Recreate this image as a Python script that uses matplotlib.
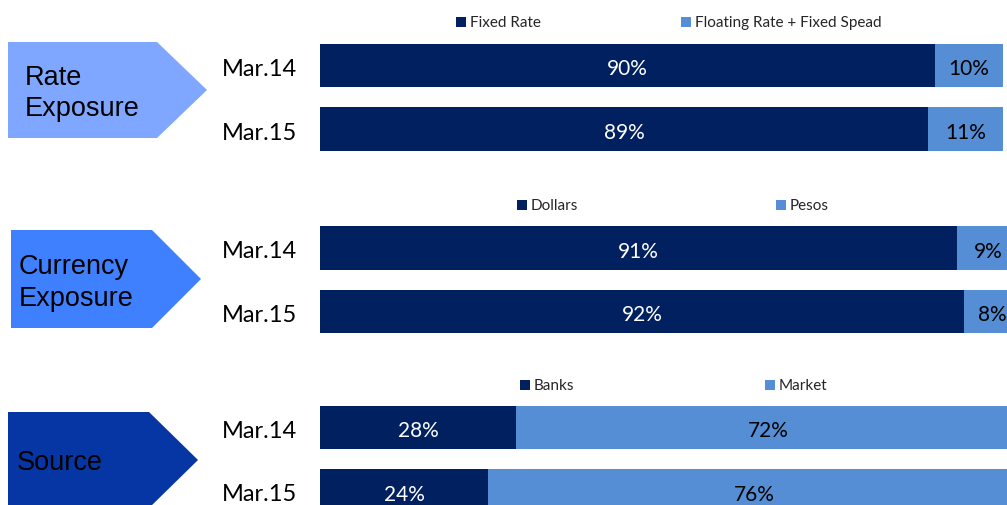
import matplotlib.pyplot as plt
from matplotlib.patches import Polygon

periods = ["Mar.14", "Mar.15"]

group_names = ["Rate\nExposure", "Currency\nExposure", "Source"]
legend_names = [["Fixed Rate", "Floating Rate + Fixed Spead"],
                ["Dollars", "Pesos"],
                ["Banks", "Market"]]

rate_fixed = [90, 89]
rate_floating = [10, 11]
cur_dollars = [91, 92]
cur_pesos = [9, 8]
src_banks = [28, 24]
src_market = [72, 76]

series = [(rate_fixed, rate_floating), (cur_dollars, cur_pesos), (src_banks, src_market)]

dark = "#002060"
light = "#558ED5"
arrow_colors = ["#7FA7FF", "#3F80FF", "#0536A4"]

W, H = 1007, 506
fig = plt.figure(figsize=(W / 100, H / 100), dpi=100)

# layout in pixels: (bar center of first row, bar axis width, arrow box, legend x positions)
layout = [
    dict(c0=66.5, width=683, arrow=(8, 43, 157, 207, 139), leg=(457, 682), leg_y=23, txt=(25, 93)),
    dict(c0=249, width=700, arrow=(11, 231, 152, 201, 329), leg=(518, 777), leg_y=206, txt=(19, 283)),
    dict(c0=428.5, width=700, arrow=(8, 413, 149, 198, 509), leg=(521, 766), leg_y=386, txt=(17, 463)),
]

# overlay for shapes and free text, in pixel coords
ov = fig.add_axes([0, 0, 1, 1])
ov.set_xlim(0, W)
ov.set_ylim(H, 0)
ov.axis("off")

for i, lay in enumerate(layout):
    first, second = series[i]
    top = lay["c0"] - 31.75
    ax = fig.add_axes([320 / W, 1 - (top + 127) / H, lay["width"] / W, 127 / H])
    ax.barh(range(2), first, height=0.68, color=dark)
    ax.barh(range(2), second, left=first, height=0.68, color=light)
    ax.set_xlim(0, 100)
    ax.set_ylim(1.5, -0.5)
    ax.axis("off")
    for j in range(2):
        ax.text(first[j] / 2, j + 0.04, f"{first[j]}%", ha="center", va="center",
                color="white", fontsize=15, family="Lato")
        ax.text(first[j] + second[j] / 2, j + 0.04, f"{second[j]}%", ha="center", va="center",
                color="black", fontsize=15, family="Lato")
        ov.text(297, lay["c0"] + j * 63.5 + 3, periods[j], ha="right", va="center",
                fontsize=17, family="Lato", color="black")

    x0, y0, xf, xt, y1 = lay["arrow"]
    ym = (y0 + y1) / 2
    ov.add_patch(Polygon([(x0, y0), (xf, y0), (xt, ym), (xf, y1), (x0, y1)],
                         closed=True, color=arrow_colors[i], lw=0))
    ov.text(lay["txt"][0], lay["txt"][1], group_names[i], ha="left", va="center",
            fontsize=19.5, family="Liberation Sans", color="black", linespacing=1.25)

    for k, lx in enumerate(lay["leg"]):
        ov.scatter([lx + 4], [lay["leg_y"]], marker="s", s=55,
                   color=dark if k == 0 else light, lw=0)
        ov.text(lx + 13, lay["leg_y"], legend_names[i][k], ha="left", va="center",
                fontsize=11, family="Lato", color="#262626")

fig.savefig("out.png", dpi=100)
